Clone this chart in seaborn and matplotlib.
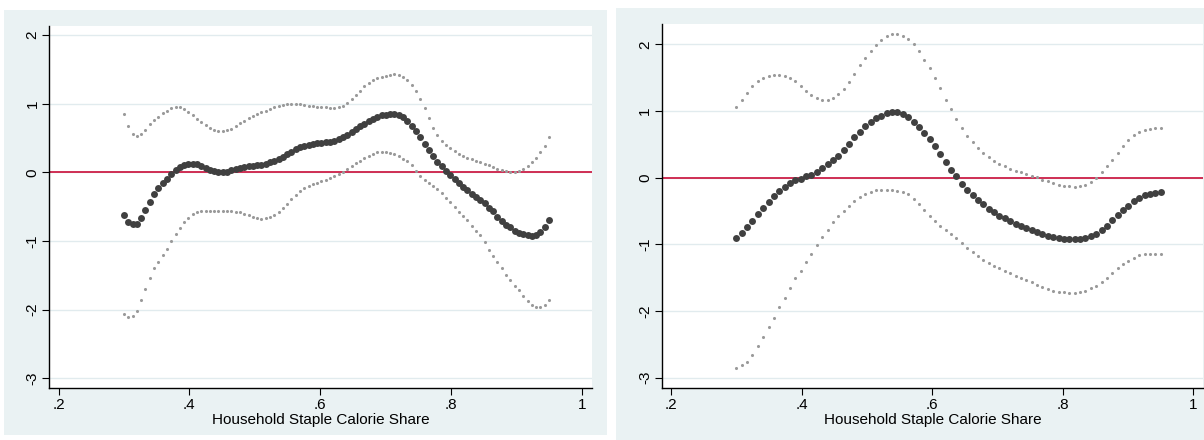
import matplotlib
matplotlib.use("Agg")
import matplotlib.pyplot as plt
from matplotlib.patches import Rectangle
import numpy as np
import pandas as pd
import seaborn as sns

plt.rcParams['font.family'] = ['Liberation Sans', 'DejaVu Sans']

# ---------------- data: left panel (100 grid points) ----------------
left_share = [0.3000, 0.3066, 0.3131, 0.3197, 0.3263, 0.3328, 0.3394, 0.3460, 0.3525, 0.3591,
              0.3657, 0.3722, 0.3788, 0.3854, 0.3919, 0.3985, 0.4051, 0.4116, 0.4182, 0.4247,
              0.4313, 0.4379, 0.4444, 0.4510, 0.4576, 0.4641, 0.4707, 0.4773, 0.4838, 0.4904,
              0.4970, 0.5035, 0.5101, 0.5167, 0.5232, 0.5298, 0.5364, 0.5429, 0.5495, 0.5561,
              0.5626, 0.5692, 0.5758, 0.5823, 0.5889, 0.5955, 0.6020, 0.6086, 0.6152, 0.6217,
              0.6283, 0.6348, 0.6414, 0.6480, 0.6545, 0.6611, 0.6677, 0.6742, 0.6808, 0.6874,
              0.6939, 0.7005, 0.7071, 0.7136, 0.7202, 0.7268, 0.7333, 0.7399, 0.7465, 0.7530,
              0.7596, 0.7662, 0.7727, 0.7793, 0.7859, 0.7924, 0.7990, 0.8056, 0.8121, 0.8187,
              0.8253, 0.8318, 0.8384, 0.8449, 0.8515, 0.8581, 0.8646, 0.8712, 0.8778, 0.8843,
              0.8909, 0.8975, 0.9040, 0.9106, 0.9172, 0.9237, 0.9303, 0.9369, 0.9434, 0.9500]

left_fit = [-0.62, -0.72, -0.75, -0.75, -0.67, -0.55, -0.43, -0.32, -0.23, -0.16,
            -0.09, -0.03, 0.04, 0.08, 0.11, 0.12, 0.125, 0.115, 0.095, 0.065,
            0.035, 0.015, 0.00, 0.00, 0.01, 0.03, 0.045, 0.06, 0.075, 0.085,
            0.09, 0.10, 0.11, 0.125, 0.145, 0.165, 0.19, 0.22, 0.26, 0.30,
            0.34, 0.365, 0.385, 0.40, 0.41, 0.42, 0.43, 0.435, 0.445, 0.46,
            0.48, 0.51, 0.55, 0.59, 0.63, 0.67, 0.71, 0.75, 0.78, 0.81,
            0.83, 0.84, 0.845, 0.845, 0.83, 0.80, 0.75, 0.68, 0.60, 0.51,
            0.41, 0.32, 0.24, 0.15, 0.09, 0.02, -0.04, -0.10, -0.15, -0.21,
            -0.26, -0.31, -0.36, -0.41, -0.45, -0.52, -0.57, -0.65, -0.71, -0.76,
            -0.80, -0.85, -0.88, -0.905, -0.92, -0.925, -0.91, -0.87, -0.79, -0.69]

left_upper = [0.85, 0.67, 0.56, 0.53, 0.56, 0.62, 0.70, 0.76, 0.81, 0.86,
              0.90, 0.93, 0.95, 0.945, 0.92, 0.88, 0.83, 0.78, 0.73, 0.69,
              0.65, 0.62, 0.60, 0.595, 0.61, 0.635, 0.67, 0.715, 0.75, 0.785,
              0.815, 0.845, 0.875, 0.90, 0.925, 0.945, 0.965, 0.98, 0.99, 1.00,
              1.00, 0.99, 0.98, 0.97, 0.96, 0.955, 0.95, 0.945, 0.94, 0.94,
              0.95, 0.97, 1.01, 1.07, 1.13, 1.19, 1.25, 1.30, 1.34, 1.37,
              1.39, 1.41, 1.42, 1.425, 1.42, 1.39, 1.35, 1.27, 1.18, 1.07,
              0.94, 0.79, 0.64, 0.54, 0.46, 0.40, 0.35, 0.31, 0.27, 0.24,
              0.21, 0.19, 0.17, 0.145, 0.12, 0.10, 0.075, 0.055, 0.035, 0.015,
              0.00, 0.00, 0.02, 0.05, 0.09, 0.15, 0.21, 0.30, 0.39, 0.52]

left_lower = [-2.07, -2.11, -2.09, -2.02, -1.86, -1.70, -1.54, -1.40, -1.30, -1.20,
              -1.11, -1.00, -0.90, -0.81, -0.73, -0.66, -0.61, -0.575, -0.565, -0.56,
              -0.56, -0.565, -0.565, -0.57, -0.57, -0.57, -0.575, -0.58, -0.60, -0.62,
              -0.645, -0.665, -0.675, -0.67, -0.65, -0.62, -0.575, -0.52, -0.46, -0.39,
              -0.33, -0.27, -0.23, -0.20, -0.17, -0.15, -0.13, -0.11, -0.085, -0.06,
              -0.03, 0.01, 0.05, 0.09, 0.13, 0.17, 0.21, 0.24, 0.27, 0.29,
              0.30, 0.295, 0.28, 0.26, 0.235, 0.20, 0.16, 0.10, 0.02, -0.05,
              -0.11, -0.155, -0.195, -0.24, -0.30, -0.37, -0.43, -0.50, -0.575, -0.64,
              -0.70, -0.78, -0.85, -0.91, -1.02, -1.13, -1.22, -1.31, -1.40, -1.49,
              -1.57, -1.65, -1.72, -1.80, -1.88, -1.93, -1.955, -1.96, -1.93, -1.86]

# ---------------- data: right panel (80 grid points) ----------------
right_share = [0.3000, 0.3082, 0.3165, 0.3247, 0.3329, 0.3411, 0.3494, 0.3576, 0.3658, 0.3741,
               0.3823, 0.3905, 0.3987, 0.4070, 0.4152, 0.4234, 0.4316, 0.4399, 0.4481, 0.4563,
               0.4646, 0.4728, 0.4810, 0.4892, 0.4975, 0.5057, 0.5139, 0.5222, 0.5304, 0.5386,
               0.5468, 0.5551, 0.5633, 0.5715, 0.5797, 0.5880, 0.5962, 0.6044, 0.6127, 0.6209,
               0.6291, 0.6373, 0.6456, 0.6538, 0.6620, 0.6703, 0.6785, 0.6867, 0.6949, 0.7032,
               0.7114, 0.7196, 0.7278, 0.7361, 0.7443, 0.7525, 0.7608, 0.7690, 0.7772, 0.7854,
               0.7937, 0.8019, 0.8101, 0.8184, 0.8266, 0.8348, 0.8430, 0.8513, 0.8595, 0.8677,
               0.8759, 0.8842, 0.8924, 0.9006, 0.9089, 0.9171, 0.9253, 0.9335, 0.9418, 0.9500]

right_fit = [-0.90, -0.83, -0.74, -0.645, -0.55, -0.45, -0.36, -0.28, -0.20, -0.14,
             -0.08, -0.04, -0.015, 0.02, 0.045, 0.09, 0.14, 0.20, 0.27, 0.33,
             0.42, 0.51, 0.61, 0.69, 0.77, 0.83, 0.89, 0.93, 0.965, 0.985,
             0.98, 0.955, 0.915, 0.84, 0.76, 0.67, 0.58, 0.47, 0.35, 0.23,
             0.12, 0.02, -0.09, -0.18, -0.26, -0.33, -0.40, -0.47, -0.52, -0.57,
             -0.61, -0.65, -0.69, -0.73, -0.76, -0.79, -0.82, -0.84, -0.87, -0.89,
             -0.905, -0.915, -0.925, -0.925, -0.915, -0.90, -0.875, -0.84, -0.79, -0.73,
             -0.64, -0.56, -0.49, -0.43, -0.35, -0.30, -0.26, -0.24, -0.23, -0.21]

right_upper = [1.055, 1.16, 1.27, 1.37, 1.45, 1.50, 1.53, 1.54, 1.54, 1.52,
               1.50, 1.45, 1.37, 1.30, 1.24, 1.20, 1.16, 1.16, 1.19, 1.25,
               1.33, 1.44, 1.56, 1.69, 1.80, 1.90, 1.985, 2.06, 2.12, 2.15,
               2.16, 2.13, 2.08, 2.01, 1.90, 1.77, 1.64, 1.50, 1.34, 1.17,
               1.025, 0.88, 0.74, 0.63, 0.53, 0.44, 0.37, 0.31, 0.25, 0.21,
               0.17, 0.13, 0.10, 0.08, 0.055, 0.03, 0.005, -0.03, -0.055, -0.08,
               -0.105, -0.12, -0.13, -0.14, -0.13, -0.105, -0.07, -0.005, 0.08, 0.17,
               0.27, 0.37, 0.47, 0.57, 0.64, 0.69, 0.72, 0.73, 0.74, 0.74]

right_lower = [-2.85, -2.81, -2.76, -2.66, -2.53, -2.39, -2.24, -2.10, -1.94, -1.80,
               -1.66, -1.51, -1.40, -1.27, -1.14, -1.01, -0.885, -0.78, -0.67, -0.58,
               -0.50, -0.43, -0.35, -0.29, -0.24, -0.21, -0.19, -0.18, -0.18, -0.19,
               -0.20, -0.22, -0.25, -0.32, -0.39, -0.49, -0.58, -0.65, -0.73, -0.78,
               -0.84, -0.90, -0.975, -1.05, -1.11, -1.17, -1.23, -1.28, -1.32, -1.36,
               -1.40, -1.43, -1.47, -1.50, -1.53, -1.57, -1.61, -1.64, -1.67, -1.70,
               -1.71, -1.72, -1.73, -1.73, -1.72, -1.70, -1.66, -1.62, -1.57, -1.51,
               -1.43, -1.36, -1.30, -1.25, -1.20, -1.16, -1.15, -1.14, -1.14, -1.14]

x_ticks = [0.2, 0.4, 0.6, 0.8, 1.0]
x_ticklabels = ['.2', '.4', '.6', '.8', '1']
y_ticks = [-3, -2, -1, 0, 1, 2]
y_ticklabels = ['-3', '-2', '-1', '0', '1', '2']
x_title = 'Household Staple Calorie Share'

# ---------------- styling ----------------
W, H = 1204, 440
BG = '#EAF2F3'
GRID = '#E1EBEE'
RED = '#CC1F47'
FIT_C = '#404040'
CI_C = '#9A9A9A'

fig = plt.figure(figsize=(W / 100, H / 100), dpi=100)
fig.patch.set_facecolor('white')

# panel backgrounds (pixel boxes -> figure fractions)
def px_rect(x0, y0, x1, y1):
    return (x0 / W, 1 - y1 / H, (x1 - x0) / W, (y1 - y0) / H)

for box in [(4, 10, 607, 435), (616, 8, 1204, 440)]:
    l, b, w, h = px_rect(*box)
    fig.add_artist(Rectangle((l, b), w, h, transform=fig.transFigure,
                             facecolor=BG, edgecolor='none', zorder=0))

panels = [
    dict(box=(49.3, 26, 591.7, 388), xlim=(0.1857, 1.0153), ylim=(-3.141, 2.131),
         share=left_share, fit=left_fit, upper=left_upper, lower=left_lower),
    dict(box=(661.7, 24, 1203, 388), xlim=(0.1858, 1.0149), ylim=(-3.155, 2.305),
         share=right_share, fit=right_fit, upper=right_upper, lower=right_lower),
]

for p in panels:
    l, b, w, h = px_rect(*p['box'])
    ax = fig.add_axes([l, b, w, h])
    ax.set_facecolor('white')
    df = pd.DataFrame({'share': p['share'], 'fit': p['fit'],
                       'upper': p['upper'], 'lower': p['lower']})
    for yi in y_ticks:
        ax.axhline(yi, color=GRID, lw=1.0, zorder=1)
    ax.axhline(0, color=RED, lw=1.3, zorder=2)
    sns.scatterplot(data=df, x='share', y='upper', ax=ax, s=5, color=CI_C,
                    linewidth=0, zorder=3)
    sns.scatterplot(data=df, x='share', y='lower', ax=ax, s=5, color=CI_C,
                    linewidth=0, zorder=3)
    sns.scatterplot(data=df, x='share', y='fit', ax=ax, s=25, color=FIT_C,
                    linewidth=0, zorder=4)
    ax.set_xlim(*p['xlim'])
    ax.set_ylim(*p['ylim'])
    ax.set_xticks(x_ticks)
    ax.set_xticklabels(x_ticklabels)
    ax.set_yticks(y_ticks)
    ax.set_yticklabels(y_ticklabels, rotation=90, va='center')
    ax.tick_params(axis='both', direction='out', length=5, width=0.8,
                   color='black', labelsize=11, labelcolor='black')
    ax.tick_params(axis='x', pad=2.5)
    ax.tick_params(axis='y', pad=2)
    for s in ['top', 'right']:
        ax.spines[s].set_visible(False)
    for s in ['left', 'bottom']:
        ax.spines[s].set_color('black')
        ax.spines[s].set_linewidth(1.0)
    ax.set_xlabel(x_title, fontsize=11, labelpad=0.5)
    ax.set_ylabel('')
    ax.grid(False)

fig.savefig('out.png', dpi=100, facecolor='white')
